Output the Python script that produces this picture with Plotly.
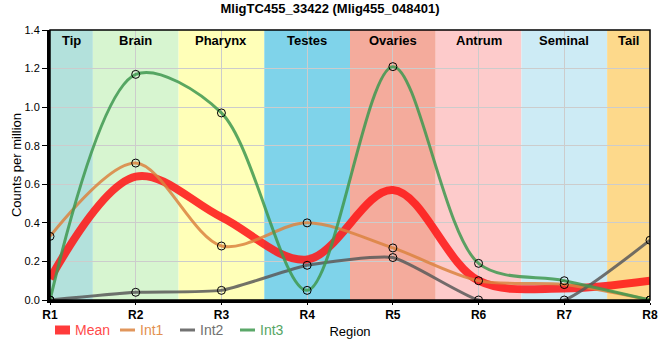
import plotly.graph_objects as go

# ---- data ----
regions = ["R1", "R2", "R3", "R4", "R5", "R6", "R7", "R8"]
mean_vals = [0.11, 0.64, 0.43, 0.21, 0.57, 0.10, 0.06, 0.10]
int1_vals = [0.33, 0.71, 0.28, 0.40, 0.27, 0.10, 0.08, 0.00]
int2_vals = [0.00, 0.04, 0.05, 0.18, 0.22, 0.00, 0.00, 0.31]
int3_vals = [0.00, 1.17, 0.97, 0.05, 1.21, 0.19, 0.10, 0.00]

band_names = ["Tip", "Brain", "Pharynx", "Testes", "Ovaries", "Antrum", "Seminal", "Tail"]
band_start = [0.0, 0.5, 1.5, 2.5, 3.5, 4.5, 5.5, 6.5]
band_end = [0.5, 1.5, 2.5, 3.5, 4.5, 5.5, 6.5, 7.0]
band_colors = ["#b3e1dc", "#d7f5d0", "#ffffb8", "#7fd3ea", "#f4ab9c", "#fdcbcb", "#cdebf5", "#fdd98b"]

series_names = ["Mean", "Int1", "Int2", "Int3"]
series_values = [mean_vals, int1_vals, int2_vals, int3_vals]
series_colors = ["#ff1a1a", "#dc8440", "#5a5a5a", "#3f9950"]
series_smoothing = [1.0, 0.9, 0.5, 0.9]
legend_text_colors = ["#ff4a4a", "#e3904f", "#707070", "#55a565"]

title = "MligTC455_33422 (Mlig455_048401)"
FONT = "Liberation Sans, Arial, sans-serif"

W, H = 660, 360
ML, MR, MT, MB = 50, 10, 30, 60
PW, PH = W - ML - MR, H - MT - MB

fig = go.Figure()

for i, (name, vals, col, sm) in enumerate(zip(series_names, series_values, series_colors, series_smoothing)):
    is_mean = i == 0
    fig.add_trace(go.Scatter(
        x=regions, y=vals, mode="lines",
        line=dict(color=col, width=8 if is_mean else 3, shape="spline", smoothing=sm),
        opacity=0.88 if is_mean else 0.85, name=name, showlegend=False,
    ))
    if not is_mean:
        fig.add_trace(go.Scatter(
            x=regions, y=vals, mode="markers",
            marker=dict(symbol="circle-open", size=8, color="black", line=dict(width=1)),
            showlegend=False, hoverinfo="skip",
        ))

shapes = []
annotations = []
for nm, s, e, c in zip(band_names, band_start, band_end, band_colors):
    shapes.append(dict(type="rect", xref="x", yref="paper", x0=s, x1=e, y0=0, y1=1,
                       fillcolor=c, line=dict(width=0), layer="below"))
    annotations.append(dict(x=(s + e) / 2, y=1, xref="x", yref="paper", text=f"<b>{nm}</b>",
                            showarrow=False, yanchor="top", yshift=-1,
                            font=dict(family=FONT, size=13, color="black")))
shapes.append(dict(type="rect", xref="paper", yref="paper", x0=0, x1=1, y0=0, y1=1,
                   line=dict(color="black", width=1.5), layer="above"))

# custom compact legend (pixel layout converted to paper coordinates)
def px_x(p):
    return (p - ML) / PW

def px_y(p):
    return (H - MB - p) / PH

legend_sym_x = [55, 120, 180, 240]
legend_y = 330
for i, (name, tcol, col) in enumerate(zip(series_names, legend_text_colors, series_colors)):
    x0 = legend_sym_x[i]
    shapes.append(dict(type="line", xref="paper", yref="paper",
                       x0=px_x(x0), x1=px_x(x0 + 15), y0=px_y(legend_y), y1=px_y(legend_y),
                       line=dict(color=col, width=9 if i == 0 else 3), opacity=0.85))
    annotations.append(dict(x=px_x(x0 + 18), y=px_y(legend_y), xref="paper", yref="paper",
                            text=name, showarrow=False, xanchor="left", yanchor="middle",
                            font=dict(family=FONT, size=14, color=tcol)))

fig.update_layout(
    width=W, height=H,
    margin=dict(l=ML, r=MR, t=MT, b=MB, autoexpand=False),
    paper_bgcolor="white", plot_bgcolor="white",
    font=dict(family=FONT, size=12, color="black"),
    title=dict(text=f"<b>{title}</b>", x=0.5, xanchor="center", y=0.99, yanchor="top",
               font=dict(family=FONT, size=13, color="black")),
    shapes=shapes, annotations=annotations,
    showlegend=False,
)
fig.update_xaxes(
    type="category", range=[0, 7], showgrid=True, gridcolor="#cccccc", gridwidth=1,
    showline=True, linecolor="black", linewidth=3, ticks="outside", ticklen=2, tickcolor="black",
    tickfont=dict(family=FONT, size=12, color="black", weight="bold"),
    title=dict(text="Region", font=dict(family=FONT, size=13), standoff=6),
    zeroline=False, automargin=False,
)
fig.update_yaxes(
    range=[0, 1.4], dtick=0.2, tickformat=".1f", showgrid=True, gridcolor="#cccccc", gridwidth=1,
    showline=True, linecolor="black", linewidth=3, ticks="outside", ticklen=5, tickcolor="black",
    tickfont=dict(family=FONT, size=11, color="black"),
    title=dict(text="Counts per million", font=dict(family=FONT, size=13), standoff=0),
    zeroline=False, automargin=False,
)

fig.write_html("out.html", config={"displayModeBar": False},
               post_script="document.body.style.margin='0';document.body.style.padding='0';")
